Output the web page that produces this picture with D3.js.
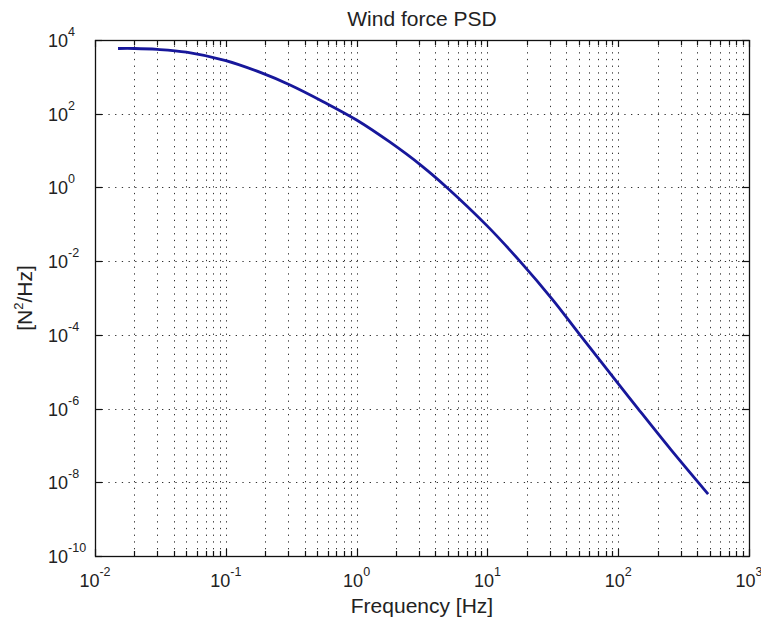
<!DOCTYPE html>
<html>
<head>
<meta charset="utf-8">
<script src="https://cdn.jsdelivr.net/npm/d3@7"></script>
<style>
  html, body { margin: 0; padding: 0; background: #fff; }
  svg { display: block; font-family: "Liberation Sans", Arial, sans-serif; }
</style>
</head>
<body>
<svg id="chart" width="761" height="626"></svg>
<script>
// Wind force power spectral density, log-log
const freqHz = [0.015, 0.02, 0.03, 0.05, 0.1, 0.19, 0.31, 0.56, 1, 1.78, 3.16, 4.9, 10, 17.7, 31.6, 51, 100, 141.6, 251, 487];
const psdLog10 = [3.77, 3.77, 3.745, 3.67, 3.44, 3.10, 2.78, 2.32, 1.83, 1.24, 0.58, 0.0, -1.05, -2.0, -3.05, -4.0, -5.32, -6.0, -7.1, -8.32];
const psd = psdLog10.map(v => Math.pow(10, v));

const xTickExp = [-2, -1, 0, 1, 2, 3];
const yTickExp = [4, 2, 0, -2, -4, -6, -8, -10];

const titleText = "Wind force PSD";
const xLabelText = "Frequency [Hz]";

const svg = d3.select("#chart");
const L = 95, R = 749, T = 40, B = 556;

const x = d3.scaleLog().domain([1e-2, 1e3]).range([L, R]);
const y = d3.scaleLog().domain([1e-10, 1e4]).range([B, T]);

// minor positions along x: 2..9 in each decade
const xMinor = [];
for (let e = -2; e < 3; e++) for (let k = 2; k <= 9; k++) xMinor.push(k * Math.pow(10, e));
const xMajor = xTickExp.map(e => Math.pow(10, e));
const yMajor = yTickExp.map(e => Math.pow(10, e));

const grid = svg.append("g")
  .attr("stroke", "#333")
  .attr("stroke-width", 1)
  .attr("stroke-dasharray", "1.3,5.4");

grid.selectAll("line.vx").data(xMinor.concat(xMajor.slice(1, -1))).join("line")
  .attr("x1", d => Math.round(x(d)) + 0.5).attr("x2", d => Math.round(x(d)) + 0.5)
  .attr("y1", B).attr("y2", T);

grid.selectAll("line.hy").data(yMajor.slice(1, -1)).join("line")
  .attr("y1", d => Math.round(y(d)) + 0.5).attr("y2", d => Math.round(y(d)) + 0.5)
  .attr("x1", L).attr("x2", R);

// frame
svg.append("rect")
  .attr("x", L + 0.5).attr("y", T + 0.5)
  .attr("width", R - L).attr("height", B - T)
  .attr("fill", "none").attr("stroke", "#111").attr("stroke-width", 1.3);

// ticks (inward, on both sides)
const ticks = svg.append("g").attr("stroke", "#111").attr("stroke-width", 1.2);
const xTickData = xMajor.map(v => ({ v, len: 7 })).concat(xMinor.map(v => ({ v, len: 5 })));
ticks.selectAll("line.xb").data(xTickData).join("line")
  .attr("x1", d => Math.round(x(d.v)) + 0.5).attr("x2", d => Math.round(x(d.v)) + 0.5)
  .attr("y1", B).attr("y2", d => B - d.len);
ticks.selectAll("line.xt").data(xTickData).join("line")
  .attr("x1", d => Math.round(x(d.v)) + 0.5).attr("x2", d => Math.round(x(d.v)) + 0.5)
  .attr("y1", T).attr("y2", d => T + d.len);
ticks.selectAll("line.yl").data(yMajor).join("line")
  .attr("y1", d => Math.round(y(d)) + 0.5).attr("y2", d => Math.round(y(d)) + 0.5)
  .attr("x1", L).attr("x2", L + 7);
ticks.selectAll("line.yr").data(yMajor).join("line")
  .attr("y1", d => Math.round(y(d)) + 0.5).attr("y2", d => Math.round(y(d)) + 0.5)
  .attr("x1", R).attr("x2", R - 7);

// x tick labels: 10 with superscript exponent
const xl = svg.append("g").attr("fill", "#222");
xTickExp.forEach(e => {
  const t = xl.append("text")
    .attr("x", x(Math.pow(10, e)))
    .attr("y", B + 31)
    .attr("text-anchor", "middle");
  t.append("tspan").attr("font-size", 18).text("10");
  t.append("tspan").attr("font-size", 12.5).attr("dy", -11).text(e);
});

// y tick labels
const yl = svg.append("g").attr("fill", "#222");
yTickExp.forEach(e => {
  const t = yl.append("text")
    .attr("x", 48)
    .attr("y", y(Math.pow(10, e)) + 7)
    .attr("text-anchor", "start");
  t.append("tspan").attr("font-size", 18).text("10");
  t.append("tspan").attr("font-size", 12.5).attr("dy", -11).text(e);
});

// title
svg.append("text")
  .attr("x", (L + R) / 2).attr("y", 26)
  .attr("text-anchor", "middle")
  .attr("font-size", 21).attr("fill", "#222")
  .text(titleText);

// x label
svg.append("text")
  .attr("x", (L + R) / 2).attr("y", 613)
  .attr("text-anchor", "middle")
  .attr("font-size", 21).attr("fill", "#222")
  .text(xLabelText);

// y label
const ylab = svg.append("text")
  .attr("transform", `translate(32, ${(T + B) / 2}) rotate(-90)`)
  .attr("text-anchor", "middle")
  .attr("font-size", 21).attr("fill", "#222");
ylab.append("tspan").text("[N");
ylab.append("tspan").attr("font-size", 13).attr("dy", -9).text("2");
ylab.append("tspan").attr("dy", 9).text("/Hz]");

// PSD curve
const line = d3.line()
  .x((d, i) => x(freqHz[i]))
  .y(d => y(d))
  .curve(d3.curveCatmullRom.alpha(0.5));

svg.append("path")
  .datum(psd)
  .attr("d", line)
  .attr("fill", "none")
  .attr("stroke", "#17179b")
  .attr("stroke-width", 2.8)
  .attr("stroke-linejoin", "round");
</script>
</body>
</html>
